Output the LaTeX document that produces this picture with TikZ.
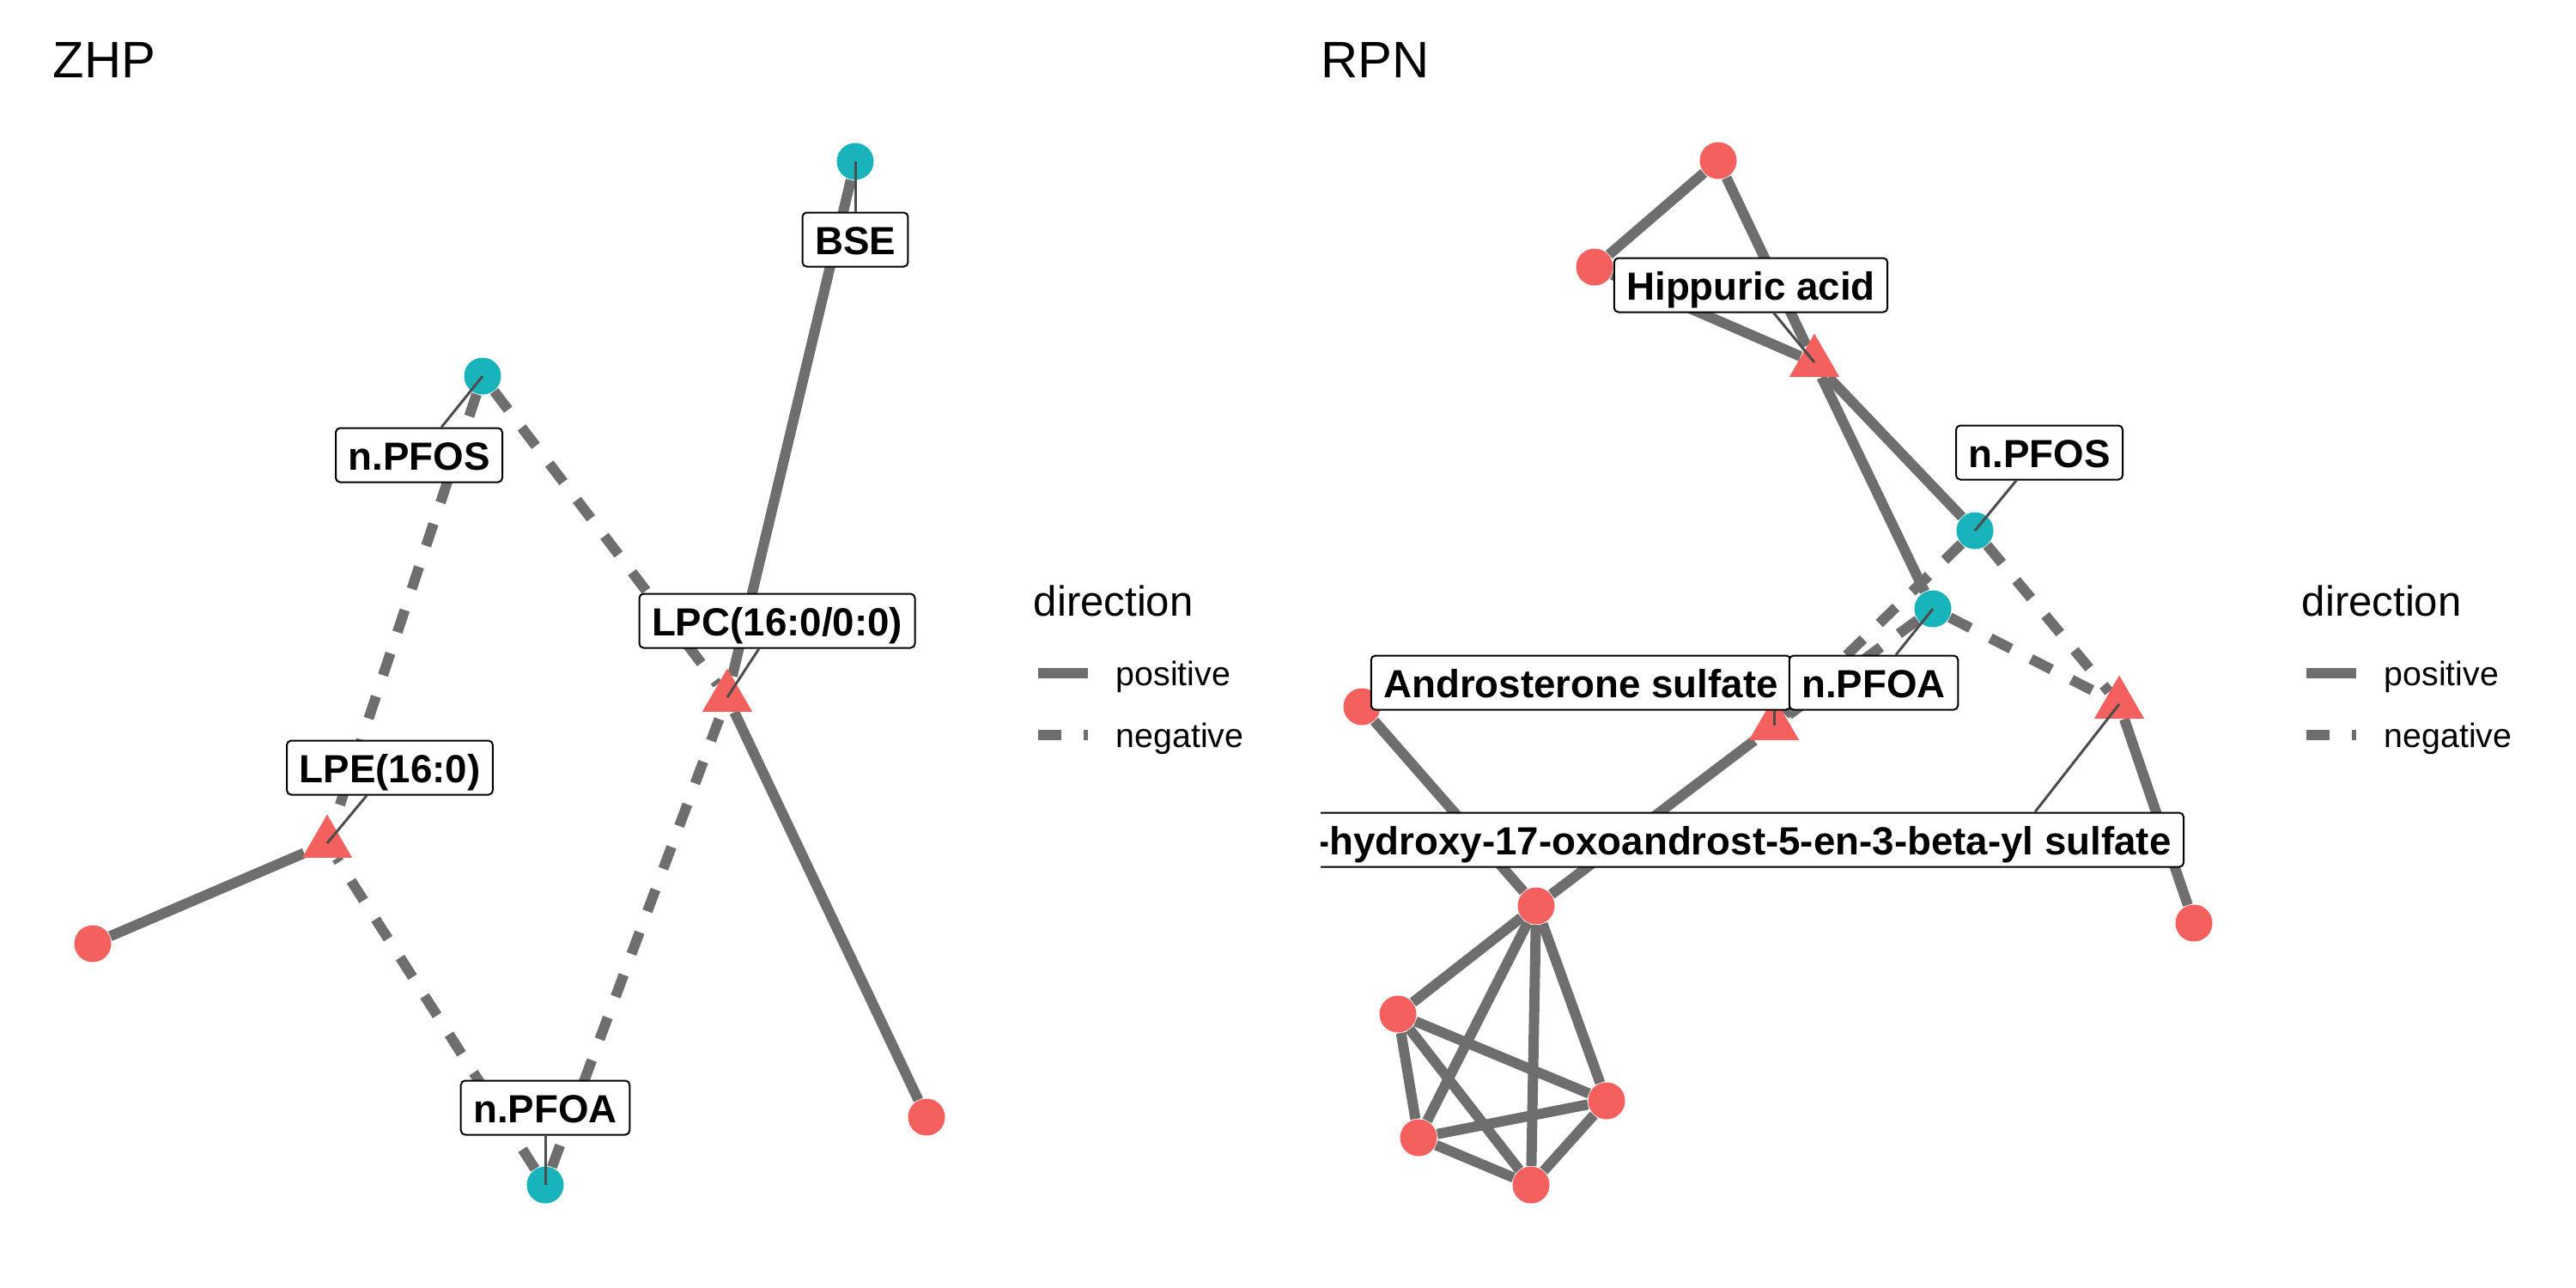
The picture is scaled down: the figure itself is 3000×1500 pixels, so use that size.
\documentclass[tikz,border=0pt]{standalone}
\usepackage{fontspec}
\setmainfont{Liberation Sans}
\usepackage{xcolor}
\usepackage{tikz}
\usetikzlibrary{shapes.geometric}
\usetikzlibrary{backgrounds}
\definecolor{upred}{HTML}{F3605D}
\definecolor{pfcyan}{HTML}{19B4BB}
\definecolor{linkgrey}{HTML}{6E6E6E}
\tikzset{
  metab/.style={circle,fill=upred,minimum size=4.3mm,inner sep=0pt},
  pfas/.style={circle,fill=pfcyan,minimum size=4.3mm,inner sep=0pt},
  hub/.style={regular polygon,regular polygon sides=3,fill=upred,minimum size=6.7mm,inner sep=0pt},
  poslink/.style={draw=linkgrey,line width=1.2mm},
  neglink/.style={poslink,dash pattern=on 2.7mm off 2.6mm},
  lead/.style={draw=black!70,line width=0.3mm},
  lab/.style={draw,fill=white,rounded corners=0.5mm,line width=0.2mm,
    font=\fontsize{13}{15}\selectfont\bfseries,inner xsep=1.45mm,inner ysep=0.8mm,
    text height=4.1mm,text depth=0.6mm},
  panel/.style={anchor=base west,inner sep=0pt,font=\fontsize{17}{20}\selectfont},
  legtitle/.style={anchor=base west,inner sep=0pt,font=\fontsize{14}{17}\selectfont},
  legtext/.style={anchor=base west,inner sep=0pt,font=\fontsize{11.2}{13}\selectfont}
}

\begin{document}
\begin{tikzpicture}[x=0.1mm,y=-0.1mm]
        \useasboundingbox (0,0) rectangle (3000,1500);
        % ZHP network
        \node[pfas] (bse) at (996,188) {};
        \node[pfas] (pfosz) at (562,438) {};
        \node[hub] (lpc) at (847,812) {};
        \node[hub] (lpe) at (381,982) {};
        \node[metab] (mz1) at (108,1099) {};
        \node[pfas] (pfoaz) at (635,1380) {};
        \node[metab] (mz2) at (1079,1301) {};
        \begin{pgfonlayer}{background}
        \path[poslink]
          (bse) edge (lpc)
          (lpc) edge (mz2)
          (lpe) edge (mz1);
        \path[neglink]
          (pfosz) edge (lpc)
                  edge (lpe)
          (pfoaz) edge (lpe)
                  edge (lpc);
        \end{pgfonlayer}
        \node[lab] (bsel) at (996,279) {BSE};
        \node[lab] (pfoszl) at (488,530) {n.PFOS};
        \node[lab] (lpcl) at (905,723) {LPC(16:0/0:0)};
        \node[lab] (lpel) at (454,894) {LPE(16:0)};
        \node[lab] (pfoazl) at (635,1290) {n.PFOA};
        \path[lead]
          (bse.center) edge (bsel)
          (pfosz.center) edge (pfoszl)
          (lpc.center) edge (lpcl)
          (lpe.center) edge (lpel)
          (pfoaz.center) edge (pfoazl);

        % RPN network
        \node[metab] (mr1) at (2001,187) {};
        \node[metab] (mr2) at (1857,311) {};
        \node[hub] (hip) at (2113,422) {};
        \node[pfas] (pfosr) at (2300,618) {};
        \node[pfas] (pfoar) at (2251,709) {};
        \node[metab] (mr3) at (1586,823) {};
        \node[hub] (andro) at (2066,845) {};
        \node[hub] (hydr) at (2468,820) {};
        \node[metab] (c0) at (1789,1055) {};
        \node[metab] (c1) at (1628,1181) {};
        \node[metab] (c2) at (1871,1282) {};
        \node[metab] (c3) at (1652,1325) {};
        \node[metab] (c4) at (1783,1380) {};
        \node[metab] (mr4) at (2555,1075) {};
        \begin{pgfonlayer}{background}
        \path[poslink]
          (mr1) edge (mr2)
                edge (hip)
          (mr2) edge (hip)
          (hip) edge (pfosr)
                edge (pfoar)
          (andro) edge (c0)
          (mr3) edge (c0)
          (hydr) edge (mr4)
          (c0) edge (c1) edge (c2) edge (c3) edge (c4)
          (c1) edge (c2) edge (c3) edge (c4)
          (c2) edge (c3) edge (c4)
          (c3) edge (c4);
        \path[neglink]
          (pfosr) edge (andro)
                  edge (hydr)
          (pfoar) edge (andro)
                  edge (hydr);
        \end{pgfonlayer}
        \node[lab] (hipl) at (2039,332) {Hippuric acid};
        \node[lab] (pfosrl) at (2375,527) {n.PFOS};
        \node[lab] (androl) at (1841,795) {Androsterone sulfate};
        \node[lab] (pfoarl) at (2182,795) {n.PFOA};
        \begin{scope}
          \clip (1538,0) rectangle (3000,1500);
          \node[lab,anchor=east] (hydrl) at (2544,978) {-hydroxy-17-oxoandrost-5-en-3-beta-yl sulfate};
        \end{scope}
        \path[lead]
          (hip.center) edge (hipl)
          (pfosr.center) edge (pfosrl)
          (pfoar.center) edge (pfoarl)
          (andro.center) edge (andro.center |- androl.south)
          (hydr.center) edge ([xshift=-17.4mm]hydrl.north east);

        % titles and legends
        \node[panel] (zhp) at (61,91) {ZHP};
        \node[panel] (rpn) at (1538,91) {RPN};
        \node[legtitle] (dirz) at (1203,717) {direction};
        \node[legtext] (posz) at (1299,798) {positive};
        \node[legtext] (negz) at (1299,870) {negative};
        \draw[poslink] (1209,784) -- (1267,784);
        \draw[neglink] (1209,856) -- (1267,856);
        \node[legtitle] (dirr) at (2680,717) {direction};
        \node[legtext] (posr) at (2776,798) {positive};
        \node[legtext] (negr) at (2776,870) {negative};
        \draw[poslink] (2686,784) -- (2744,784);
        \draw[neglink] (2686,856) -- (2744,856);
    \end{tikzpicture}
\end{document}
